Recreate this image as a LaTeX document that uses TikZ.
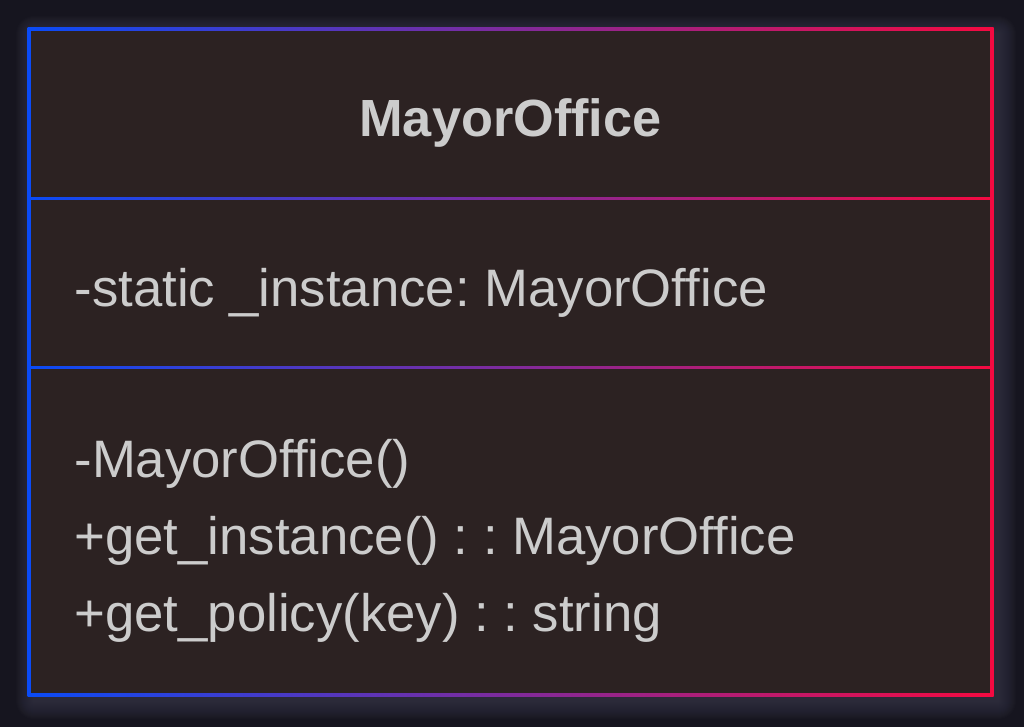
\documentclass[tikz,border=0pt]{standalone}
\usepackage{fontspec}
\setmainfont{Liberation Sans}
\definecolor{bg}{HTML}{16151F}
\definecolor{boxfill}{HTML}{2C2222}
\definecolor{lblue}{HTML}{0A4BF7}
\definecolor{lred}{HTML}{F50A41}
\definecolor{txt}{HTML}{CCCCCC}
\definecolor{glowc}{HTML}{3C3C50}
\begin{document}
\frenchspacing
\begin{tikzpicture}[x=1pt,y=-1pt,
  txtline/.style={text=txt, font=\fontsize{52.7}{60}\selectfont, inner sep=0pt, anchor=base west},
  titletxt/.style={text=txt, font=\fontsize{52.3}{60}\selectfont\bfseries, inner sep=0pt, anchor=base},
  compart/.style={fill=boxfill}]
\fill[bg] (0,0) rectangle (1024,727);
\useasboundingbox (0,0) rectangle (1024,727);
% soft glow
\foreach \i in {1,...,18}
  \fill[glowc, opacity=0.06, rounded corners=\i pt] (34-\i,34-\i) rectangle (998+\i,701+\i);
% gradient frame
\shade[left color=lblue, right color=lred] (27.5,27.5) rectangle (993.5,696);
% compartments
\fill[compart] (31,31) rectangle (990,196.8);
\fill[compart] (31,200.3) rectangle (990,365.8);
\fill[compart] (31,369.3) rectangle (990,692.5);
% texts
\node[titletxt] (title) at (510.5,137) {MayorOffice};
\node[txtline] (attr) at (74.3,306) {-static \_instance: MayorOffice};
\node[txtline] (m1) at (74.3,477) {-MayorOffice()};
\node[txtline] (m2) at (74.3,554) {+get\_instance() : : MayorOffice};
\node[txtline] (m3) at (74.3,631) {+get\_policy(key) : : string};
\end{tikzpicture}
\end{document}
